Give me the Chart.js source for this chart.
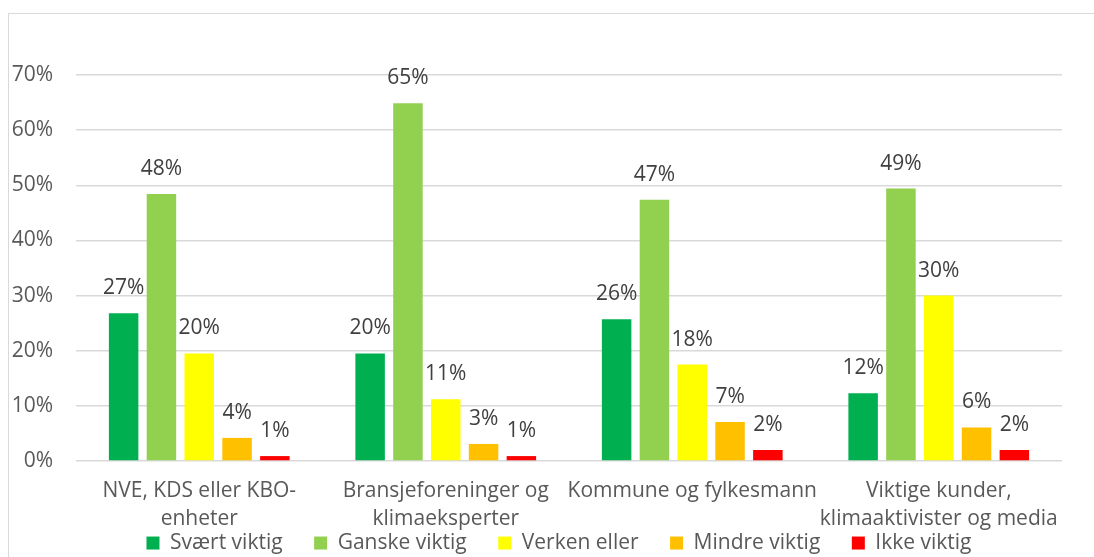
<!DOCTYPE html>
<html>
<head>
<meta charset="utf-8">
<script src="https://cdn.jsdelivr.net/npm/chart.js@4"></script>
<style>
  html, body { margin: 0; padding: 0; background: #fff; overflow: hidden; }
  #frame {
    position: absolute; left: 8px; top: 13px; width: 1100px; height: 560px;
    border-left: 1px solid #d9d9d9; border-top: 1px solid #d9d9d9;
  }
  #wrap { position: absolute; left: 0; top: 0; width: 1094px; height: 557px; }
</style>
</head>
<body>
<div id="frame"></div>
<div id="wrap"><canvas id="chart" width="1094" height="557"></canvas></div>
<script>
// DATA
const categories = [
  ["NVE, KDS eller KBO-", "enheter"],
  ["Bransjeforeninger og", "klimaeksperter"],
  "Kommune og fylkesmann",
  ["Viktige kunder,", "klimaaktivister og media"]
];
const svaertViktig = [26.8, 19.5, 25.7, 12.3];
const ganskeViktig = [48.4, 64.9, 47.4, 49.4];
const verkenEller = [19.5, 11.2, 17.5, 30.0];
const mindreViktig = [4.2, 3.1, 7.1, 6.1];
const ikkeViktig = [0.9, 0.9, 2.0, 2.0];
const yTicks = [0, 10, 20, 30, 40, 50, 60, 70];

const FONT = "'Open Sans', sans-serif";

// DATA LABELS (drawn from the bar elements)
const valueLabels = {
  id: "valueLabels",
  afterDatasetsDraw(chart) {
    const ctx = chart.ctx;
    ctx.save();
    ctx.font = "21px " + FONT;
    ctx.fillStyle = "#404040";
    ctx.textAlign = "center";
    ctx.textBaseline = "middle";
    chart.data.datasets.forEach((ds, i) => {
      chart.getDatasetMeta(i).data.forEach((bar, j) => {
        ctx.fillText(Math.round(ds.data[j]) + "%", bar.x, bar.y - 25);
      });
    });
    ctx.restore();
  }
};

// legend sits closer under the chart, overlapping the label area like in Excel
const legendUp = {
  id: "legendUp",
  afterLayout(chart) {
    const lg = chart.legend;
    lg.left -= 20;
    lg.top = chart.chartArea.bottom + 40;
    lg.height = 70;
    lg.bottom = lg.top + 70;
  }
};

const ctx = document.getElementById("chart").getContext("2d");
const chart = new Chart(ctx, {
  type: "bar",
  data: {
    labels: categories,
    datasets: [
      { label: "Svært viktig", data: svaertViktig, backgroundColor: "#00B050" },
      { label: "Ganske viktig", data: ganskeViktig, backgroundColor: "#92D050" },
      { label: "Verken eller", data: verkenEller, backgroundColor: "#FFFF00" },
      { label: "Mindre viktig", data: mindreViktig, backgroundColor: "#FFC000" },
      { label: "Ikke viktig", data: ikkeViktig, backgroundColor: "#FF0000" }
    ]
  },
  options: {
    responsive: false,
    animation: false,
    categoryPercentage: 0.767,
    barPercentage: 0.78,
    layout: { padding: { top: 75, left: 0, right: 32, bottom: 0 } },
    scales: {
      x: {
        grid: { display: false, drawTicks: false },
        border: { display: false },
        ticks: {
          color: "#595959",
          padding: 15,
          maxRotation: 0,
          autoSkip: false,
          font: { family: FONT, size: 21, lineHeight: 1.38 }
        }
      },
      y: {
        min: 0,
        max: 70,
        afterBuildTicks: (axis) => { axis.ticks = yTicks.map(v => ({ value: v })); },
        afterFit: (axis) => { axis.width = 76; },
        grid: { color: "#d9d9d9", lineWidth: 1.5, drawTicks: false },
        border: { display: false },
        ticks: {
          color: "#595959",
          padding: 23,
          font: { family: FONT, size: 21 },
          callback: (v) => v + "%"
        }
      }
    },
    plugins: {
      tooltip: { enabled: false },
      legend: {
        position: "bottom",
        fullSize: false,
        maxHeight: 8,
        labels: {
          color: "#595959",
          boxWidth: 13,
          boxHeight: 13,
          padding: 31.5,
          font: { family: FONT, size: 21 }
        }
      }
    }
  },
  plugins: [valueLabels, legendUp]
});
</script>
</body>
</html>
